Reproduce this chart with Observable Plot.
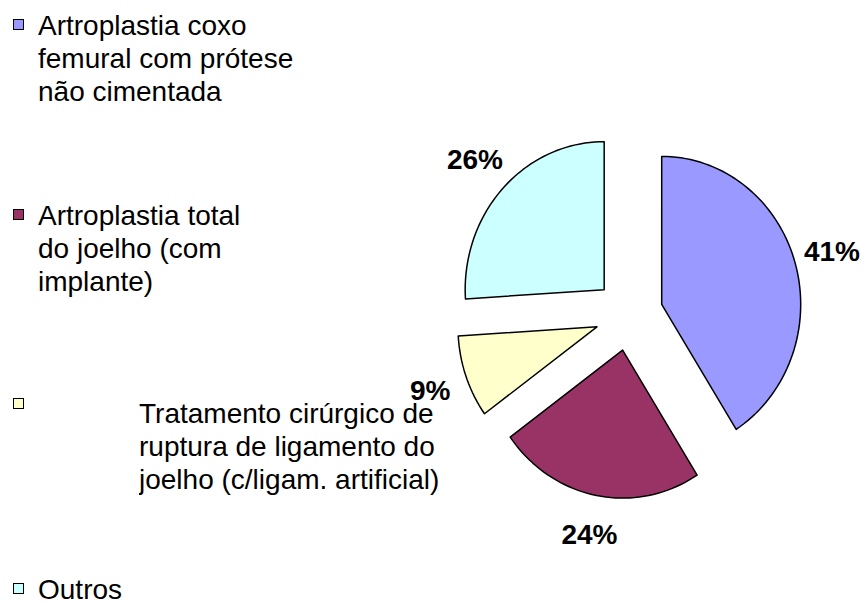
<!DOCTYPE html>
<html>
<head>
<meta charset="utf-8">
<script src="https://cdn.jsdelivr.net/npm/d3@7"></script>
<script src="https://cdn.jsdelivr.net/npm/@observablehq/plot@0.6"></script>
<style>
  html, body { margin: 0; padding: 0; background: #fff; }
  #wrap { position: relative; width: 867px; height: 603px; overflow: hidden; font-family: "Liberation Sans", Arial, sans-serif; }
  #legend { position: absolute; left: 0; top: 0; width: 867px; height: 603px; }
  .sw { position: absolute; left: 13px; width: 9px; height: 9px; border: 1px solid #000; }
  .lt { position: absolute; font-size: 28px; line-height: 33px; white-space: nowrap; color: #000; overflow: hidden; }
  #chart { position: absolute; left: 0; top: 0; }
</style>
</head>
<body>
<div id="wrap">
  <div id="legend"></div>
  <div id="chart"></div>
</div>
<script>
// ---- data ----
const categories = [
  "Artroplastia coxo femural com prótese não cimentada",
  "Artroplastia total do joelho (com implante)",
  "Tratamento cirúrgico de ruptura de ligamento do joelho (c/ligam. artificial)",
  "Outros"
];
const values = [41, 24, 9, 26];
const percentLabels = ["41%", "24%", "9%", "26%"];
const colors = ["#9999FF", "#993366", "#FFFFCC", "#CCFFFF"];
const legendLines = [
  ["Artroplastia coxo", "femural com prótese", "não cimentada"],
  ["Artroplastia total", "do joelho (com", "implante)"],
  ["Tratamento cirúrgico de", "ruptura de ligamento do", "joelho (c/ligam. artificial)"],
  ["Outros"]
];

// ---- legend layout ----
const legendSwatchTop = [19, 209, 398, 583];
// [left, top, width, lineHeight]
const legendTextPos = [[38, 9, 267, 33], [38, 199, 300, 33], [139, 397, 420, 33], [38, 577, 200, 26]];
const legend = document.getElementById("legend");
categories.forEach((c, i) => {
  const sw = document.createElement("div");
  sw.className = "sw";
  sw.style.top = legendSwatchTop[i] + "px";
  sw.style.background = colors[i];
  legend.appendChild(sw);
  const t = document.createElement("div");
  t.className = "lt";
  t.style.left = legendTextPos[i][0] + "px";
  t.style.top = legendTextPos[i][1] + "px";
  t.style.width = legendTextPos[i][2] + "px";
  t.style.lineHeight = legendTextPos[i][3] + "px";
  t.innerHTML = legendLines[i].join("<br>");
  legend.appendChild(t);
});

// ---- pie geometry (unit-radius coordinates) ----
const explode = 0.245;
const labelR = 1.52;
const arcs = d3.pie().sort(null).value(d => d)(values);
const slices = arcs.map((a, i) => {
  const mid = (a.startAngle + a.endAngle) / 2;
  const ox = explode * Math.sin(mid), oy = explode * Math.cos(mid);
  const pts = [{x: ox, y: oy}];
  const n = Math.max(4, Math.ceil((a.endAngle - a.startAngle) / (Math.PI / 90)));
  for (let k = 0; k <= n; k++) {
    const t = a.startAngle + (a.endAngle - a.startAngle) * k / n;
    pts.push({x: ox + Math.sin(t), y: oy + Math.cos(t)});
  }
  pts.push({x: ox, y: oy});
  return {pts, color: colors[i]};
});
const labels = arcs.map((a, i) => {
  const mid = (a.startAngle + a.endAngle) / 2;
  return {x: labelR * Math.sin(mid), y: labelR * Math.cos(mid), text: percentLabels[i]};
});

// scale mapping: center at (628.5, 314) px, rx = 139 px, ry = 148 px
const W = 867, H = 603, cx = 628.5, cy = 314, rx = 139, ry = 148;

const chart = Plot.plot({
  width: W,
  height: H,
  margin: 0,
  style: {background: "transparent", overflow: "visible"},
  x: {domain: [-cx / rx, (W - cx) / rx], range: [0, W], axis: null},
  y: {domain: [-(H - cy) / ry, cy / ry], range: [H, 0], axis: null},
  marks: [
    ...slices.map(s => Plot.line(s.pts, {
      x: "x", y: "y", fill: s.color, stroke: "#000", strokeWidth: 1.5, curve: "linear", strokeLinejoin: "round"
    })),
    Plot.text(labels, {
      x: "x", y: "y", text: "text", fontSize: 28, fontWeight: "bold",
      fontFamily: "Liberation Sans, Arial, sans-serif", fill: "#000"
    })
  ]
});
document.getElementById("chart").appendChild(chart);
</script>
</body>
</html>
